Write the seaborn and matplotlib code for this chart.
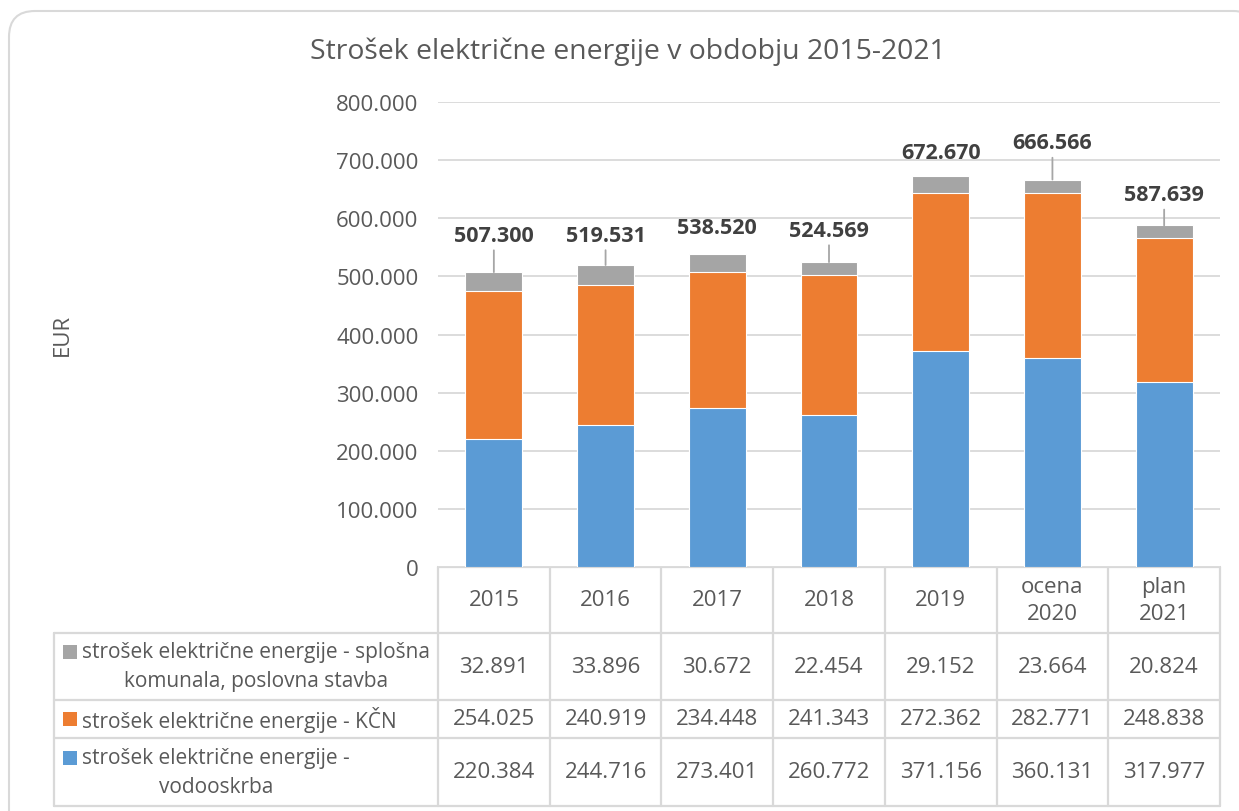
import matplotlib
matplotlib.use("Agg")
import matplotlib.pyplot as plt
import seaborn as sns
import pandas as pd
from matplotlib.patches import FancyBboxPatch, Rectangle

# Electricity cost per year (EUR)
categories = ["2015", "2016", "2017", "2018", "2019", "ocena\n2020", "plan\n2021"]
vodooskrba = [220384, 244716, 273401, 260772, 371156, 360131, 317977]
kcn = [254025, 240919, 234448, 241343, 272362, 282771, 248838]
komunala = [32891, 33896, 30672, 22454, 29152, 23664, 20824]
totals = [507300, 519531, 538520, 524569, 672670, 666566, 587639]

series_names = [
    "strošek električne energije - splošna\nkomunala, poslovna stavba",
    "strošek električne energije - KČN",
    "strošek električne energije -\nvodooskrba",
]
yticks = [0, 100000, 200000, 300000, 400000, 500000, 600000, 700000, 800000]

C_BLUE = "#5B9BD5"
C_ORANGE = "#ED7D31"
C_GRAY = "#A5A5A5"
TXT = "#595959"
GRID = "#D9D9D9"

sns.set_theme(style="white")
plt.rcParams["font.family"] = ["Open Sans", "DejaVu Sans"]
plt.rcParams["text.color"] = TXT


def fmt(v):
    return f"{v:,.0f}".replace(",", ".")


W, H = 1239, 812
fig = plt.figure(figsize=(W / 100, H / 100), dpi=100)

# pixel geometry of the plot area
PL, PR, PT, PB = 438, 1220, 103, 568
ax = fig.add_axes([PL / W, 1 - PB / H, (PR - PL) / W, (PB - PT) / H])

df = pd.DataFrame({
    "cat": categories,
    "blue": vodooskrba,
    "orange": [b + o for b, o in zip(vodooskrba, kcn)],
    "total": totals,
})

bw = 0.51
for col, c in [("total", C_GRAY), ("orange", C_ORANGE), ("blue", C_BLUE)]:
    sns.barplot(data=df, x="cat", y=col, color=c, width=bw, ax=ax,
                edgecolor="white", linewidth=0.8, saturation=1, zorder=3)

ax.set_xlim(-0.5, len(categories) - 0.5)
ax.set_ylim(0, 800000)
ax.set_yticks(yticks)
ax.set_yticklabels([fmt(v) for v in yticks], fontsize=16, color=TXT)
ax.tick_params(axis="y", length=0, pad=14)
ax.set_xticks([])
ax.set_xlabel("")
ax.set_ylabel("")
ax.grid(axis="y", color=GRID, linewidth=1.3, zorder=0)
for s in ax.spines.values():
    s.set_visible(False)

# total labels above the bars
label_offsets = [37, 30, 26, 32, 24, 37, 31]
for i, (t, off) in enumerate(zip(totals, label_offsets)):
    ap = None
    if off >= 28:
        ap = dict(arrowstyle="-", color="#A6A6A6", lw=1.3, shrinkA=1, shrinkB=0)
    ax.annotate(fmt(t), xy=(i, t), xytext=(0, off), textcoords="offset pixels",
                ha="center", va="center", fontsize=15.5, fontweight="bold",
                color="#404040", arrowprops=ap, zorder=5)

# overlay in pixel coordinates for title, frame and data table
ov = fig.add_axes([0, 0, 1, 1], zorder=-1)
ov.set_xlim(0, W)
ov.set_ylim(H, 0)
ov.axis("off")
ov.patch.set_alpha(0)

frame = FancyBboxPatch((9, 12), 1250, 830, boxstyle="round,pad=0,rounding_size=26",
                       fc="white", ec=GRID, lw=1.5, zorder=0)
ov.add_patch(frame)

ov.text(628, 52, "Strošek električne energije v obdobju 2015-2021", ha="center",
        va="center", fontsize=20.4, color=TXT)
ov.text(62, 335, "EUR", rotation=90, ha="center", va="center", fontsize=16, color=TXT)

# table lines
colw = (PR - PL) / len(categories)
xs = [PL + k * colw for k in range(len(categories) + 1)]
TL = 54
rows = [568, 634, 701, 739, 807]
lkw = dict(color=GRID, lw=1.6, zorder=1)
ov.plot([PL, PR], [rows[0], rows[0]], **lkw)
for y in rows[1:]:
    ov.plot([TL, PR], [y, y], **lkw)
ov.plot([TL, TL], [rows[1], rows[-1]], **lkw)
for x in xs:
    ov.plot([x, x], [rows[0], rows[-1]], **lkw)

# header row
for k, c in enumerate(categories):
    ov.text((xs[k] + xs[k + 1]) / 2, (rows[0] + rows[1]) / 2, c, ha="center",
            va="center", fontsize=16, color=TXT, linespacing=1.35)

# data rows
row_data = [komunala, kcn, vodooskrba]
row_colors = [C_GRAY, C_ORANGE, C_BLUE]
for r, (vals, name, colr) in enumerate(zip(row_data, series_names, row_colors)):
    y0, y1 = rows[r + 1], rows[r + 2]
    yc = (y0 + y1) / 2
    for k, v in enumerate(vals):
        ov.text((xs[k] + xs[k + 1]) / 2, yc, fmt(v), ha="center", va="center",
                fontsize=16, color=TXT)
    lines = name.split("\n")
    n = len(lines)
    gap = 29
    ys = [yc - gap * (n - 1) / 2 + j * gap for j in range(n)]
    t0 = ov.text(82, ys[0], lines[0], ha="left", va="center", fontsize=15, color=TXT)
    ov.add_patch(Rectangle((63, ys[0] - 7), 14, 14, fc=colr, ec="none"))
    if n > 1:
        fig.canvas.draw()
        bb = t0.get_window_extent()
        cx = (bb.x0 + bb.x1) / 2
        for j in range(1, n):
            ov.text(cx, ys[j], lines[j], ha="center", va="center", fontsize=15, color=TXT)

fig.savefig("out.png", dpi=100)
